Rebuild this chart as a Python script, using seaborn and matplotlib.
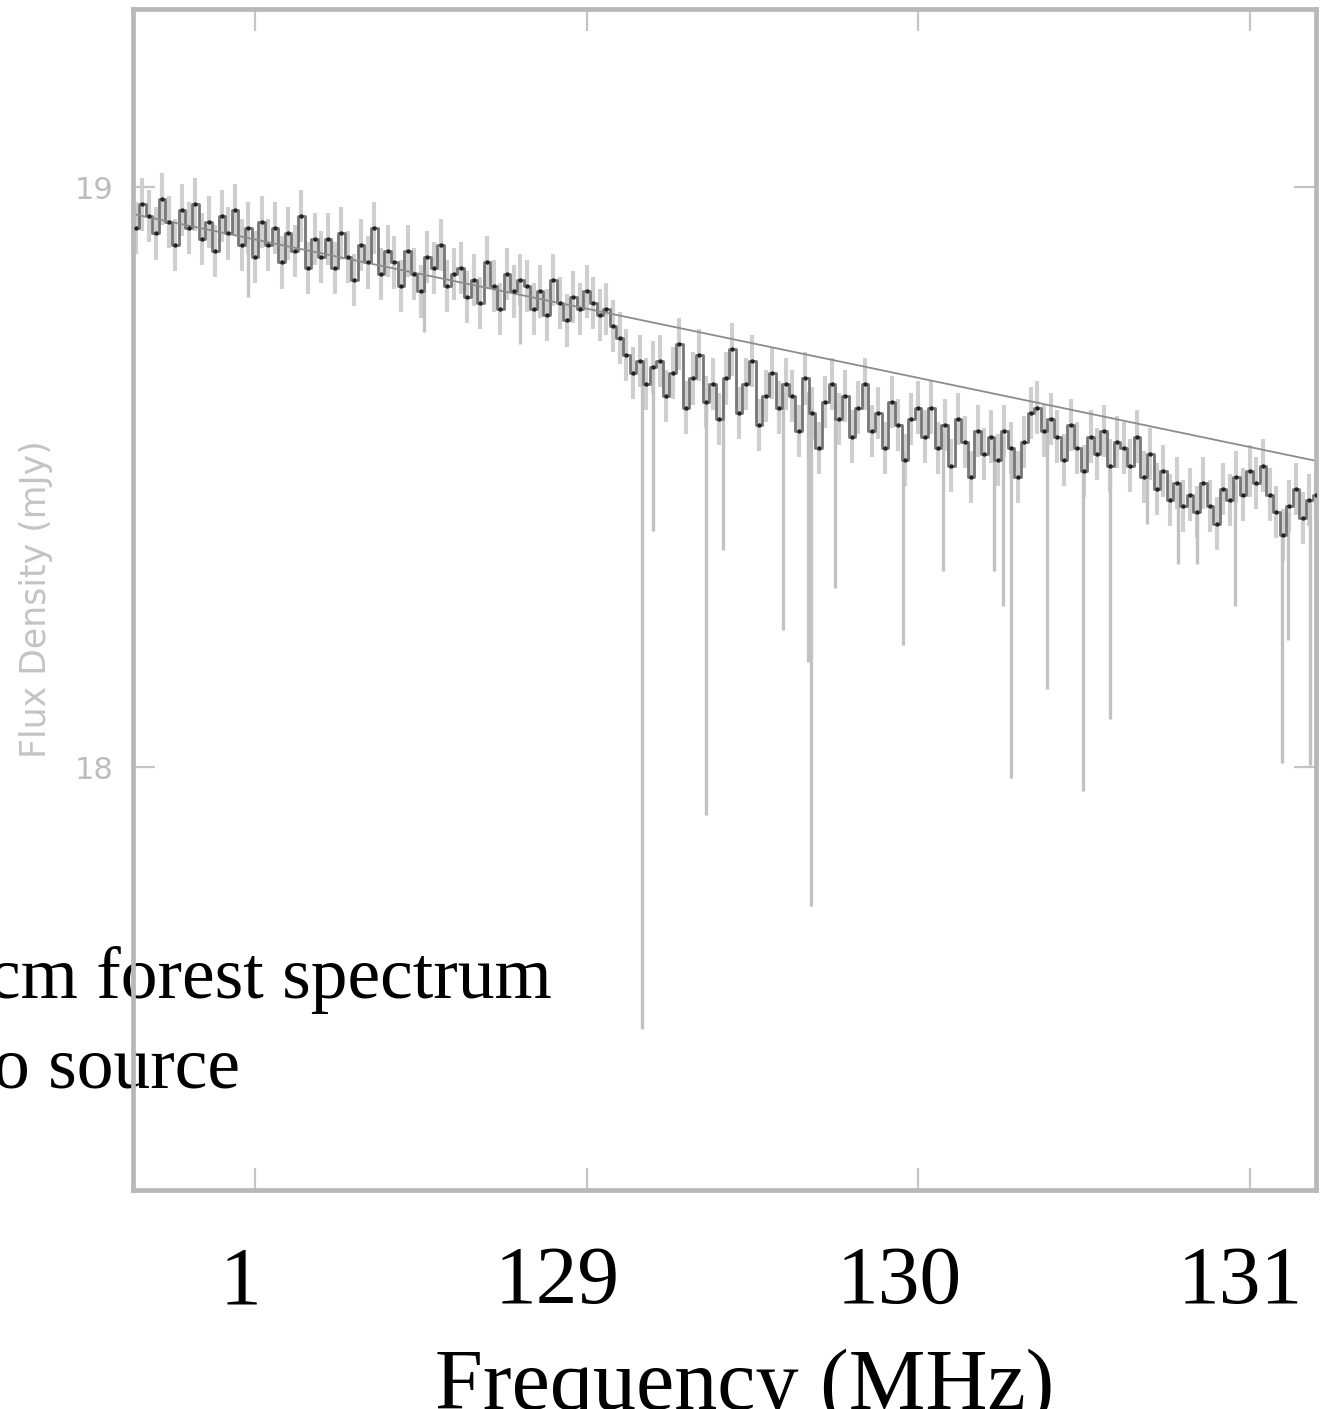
import numpy as np
import pandas as pd
import matplotlib
matplotlib.use("Agg")
import matplotlib.pyplot as plt
import seaborn as sns
from matplotlib.transforms import ScaledTranslation

# ---------------- data ----------------
freq_start = 127.62          # MHz, first channel
freq_step = 0.02             # MHz, channel width
flux_mjy = [
    18.99, 18.93, 18.97, 18.95, 18.92, 18.98, 18.94, 18.90, 18.96, 18.93,
    18.97, 18.91, 18.94, 18.89, 18.95, 18.92, 18.96, 18.90, 18.93, 18.88,
    18.94, 18.90, 18.93, 18.87, 18.92, 18.89, 18.95, 18.86, 18.91, 18.88,
    18.91, 18.86, 18.92, 18.88, 18.84, 18.90, 18.87, 18.93, 18.85, 18.89,
    18.87, 18.83, 18.89, 18.85, 18.82, 18.88, 18.86, 18.90, 18.83, 18.85,
    18.86, 18.81, 18.84, 18.80, 18.87, 18.83, 18.79, 18.85, 18.82, 18.84,
    18.83, 18.79, 18.82, 18.78, 18.84, 18.80, 18.77, 18.81, 18.79, 18.82,
    18.80, 18.78, 18.79, 18.76, 18.74, 18.71, 18.68, 18.70, 18.66, 18.69,
    18.70, 18.64, 18.68, 18.73, 18.62, 18.67, 18.71, 18.63, 18.66, 18.60,
    18.67, 18.72, 18.61, 18.66, 18.70, 18.59, 18.64, 18.68, 18.62, 18.66,
    18.64, 18.58, 18.67, 18.61, 18.55, 18.63, 18.66, 18.60, 18.64, 18.57,
    18.62, 18.66, 18.58, 18.61, 18.55, 18.63, 18.59, 18.53, 18.60, 18.62,
    18.57, 18.62, 18.55, 18.59, 18.52, 18.60, 18.56, 18.50, 18.58, 18.54,
    18.57, 18.53, 18.58, 18.55, 18.50, 18.56, 18.61, 18.62, 18.58, 18.60,
    18.57, 18.53, 18.59, 18.55, 18.51, 18.57, 18.54, 18.58, 18.52, 18.56,
    18.55, 18.52, 18.57, 18.50, 18.54, 18.48, 18.51, 18.46, 18.49, 18.45,
    18.47, 18.44, 18.49, 18.45, 18.42, 18.48, 18.46, 18.50, 18.47, 18.51,
    18.49, 18.52, 18.47, 18.44, 18.40, 18.45, 18.48, 18.43, 18.46, 18.47,
]
flux_err = 0.045             # typical error bar half-height (mJy)

continuum_freq = [127.62, 131.20]
continuum_flux = [18.955, 18.528]

abs_freq = [127.98, 128.51, 128.80, 129.167, 129.200, 129.360, 129.412, 129.593,
            129.668, 129.677, 129.750, 129.955, 130.075, 130.229, 130.256,
            130.281, 130.389, 130.498, 130.579, 130.690, 130.784, 130.840,
            130.956, 131.098, 131.116, 131.183]
abs_min = [18.81, 18.75, 18.73, 17.548, 18.407, 17.917, 18.374, 18.236,
           18.181, 17.760, 18.309, 18.210, 18.338, 18.338, 18.278,
           17.981, 18.134, 17.959, 18.083, 18.42, 18.35, 18.35,
           18.278, 18.007, 18.22, 18.003]

xtick_values = [128, 129, 130, 131]
xtick_labels = ["1", "129", "130", "131"]
ytick_values = [18, 19]
ytick_labels = ["18", "19"]

# ---------------- figure ----------------
sns.set_theme(style="ticks")
plt.rcParams["font.family"] = ["DejaVu Sans"]

W, H = 1332, 1409
fig = plt.figure(figsize=(W / 100, H / 100), dpi=100)
fig.patch.set_facecolor("white")
left_px, right_px, top_px, bottom_px = 133, 1316, 9, 1190
ax = fig.add_axes([left_px / W, 1 - bottom_px / H,
                   (right_px - left_px) / W, (bottom_px - top_px) / H])
ax.set_facecolor("none")

freq = freq_start + freq_step * np.arange(len(flux_mjy))
flux = np.array(flux_mjy)
df = pd.DataFrame({"freq": freq, "flux": flux})

# error bars
ax.vlines(df["freq"], df["flux"] - flux_err, df["flux"] + flux_err,
          color="#cfcfcf", lw=3.0, zorder=1)
# absorption lines
abs_top = np.interp(abs_freq, freq, flux)
ax.vlines(abs_freq, abs_min, abs_top, color="#c2c2c2", lw=2.4, zorder=1.5)
# spectrum
sns.lineplot(data=df, x="freq", y="flux", ax=ax, color="#767676", lw=2.0,
             drawstyle="steps-mid", zorder=2)
sns.scatterplot(data=df, x="freq", y="flux", ax=ax, color="#222222", s=10,
                linewidth=0, zorder=3)
# continuum fit
sns.lineplot(x=continuum_freq, y=continuum_flux, ax=ax, color="#8c8c8c",
             lw=1.3, zorder=2.5)

ax.set_xlim(127.632, 131.2)
ax.set_ylim(17.271, 19.307)

for s in ax.spines.values():
    s.set_color("#b8b8b8")
    s.set_linewidth(3.4)
    s.set_visible(True)

ax.set_xticks(xtick_values, xtick_labels)
ax.set_yticks(ytick_values, ytick_labels)
ax.tick_params(axis="both", direction="in", length=16, width=1.6,
               color="#c4c4c4", top=True, right=True)
ax.tick_params(axis="x", labelsize=60, pad=40, labelcolor="black")
ax.tick_params(axis="y", labelsize=22, pad=14, labelcolor="#bdbdbd")
offsets_px = [-15, -29, -19, -9]
for lbl, dx in zip(ax.get_xticklabels(), offsets_px):
    lbl.set_fontfamily("Liberation Serif")
    lbl.set_transform(lbl.get_transform() + ScaledTranslation(dx / 100, 0, fig.dpi_scale_trans))

ax.set_xlabel("Frequency (MHz)", fontsize=62, family="Liberation Serif", color="black")
ax.xaxis.set_label_coords((745 - left_px) / (right_px - left_px),
                          (bottom_px - 1349) / (bottom_px - top_px))
ax.set_ylabel("Flux Density (mJy)", fontsize=25, color="#c4c4c4")
ax.yaxis.set_label_coords(-0.0675, 0.5)

fig.text(552 / W, 1 - 998 / H, "cm forest spectrum", ha="right", va="baseline",
         fontsize=53, family="Liberation Serif", color="black", zorder=-1)
fig.text(240 / W, 1 - 1087 / H, "o source", ha="right", va="baseline",
         fontsize=53, family="Liberation Serif", color="black", zorder=-1)

fig.savefig("out.png", dpi=100)
